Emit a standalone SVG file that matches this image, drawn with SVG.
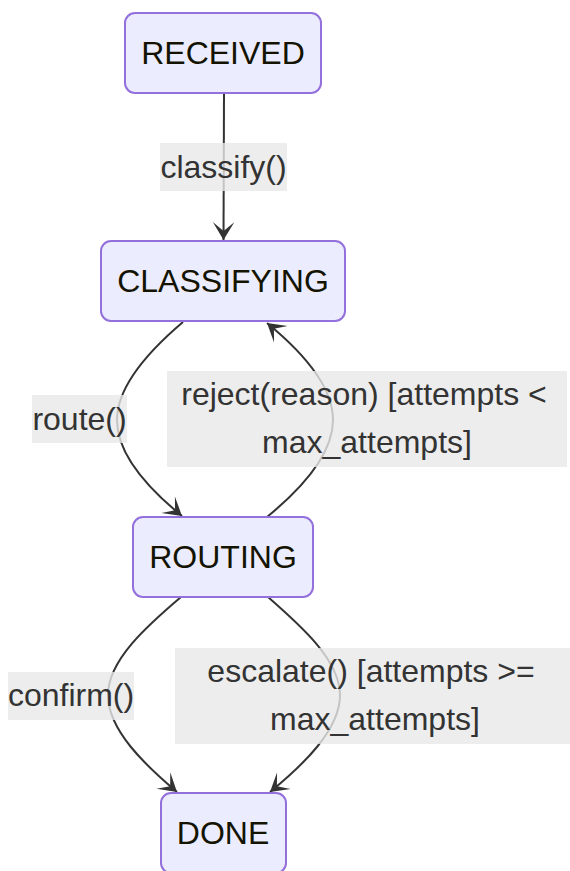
<svg xmlns="http://www.w3.org/2000/svg" width="570" height="871" viewBox="0 0 570 871">
  <style>
    .state rect { fill: #ECECFF; stroke: #9370DB; stroke-width: 2; }
    .state text { font-family: "Liberation Sans", Arial, sans-serif; font-size: 32px; fill: #131300; text-anchor: middle; }
    .edge { fill: none; stroke: #333333; stroke-width: 2; marker-end: url(#barbEnd); }
    .edge-label rect { fill: #e8e8e8; fill-opacity: 0.8; }
    .edge-label text { font-family: "Liberation Sans", Arial, sans-serif; font-size: 32px; fill: #333333; text-anchor: middle; }
  </style>
  <defs>
    <marker id="barbEnd" viewBox="0 0 20 14" refX="19" refY="7" markerWidth="36" markerHeight="25" markerUnits="userSpaceOnUse" orient="auto">
      <path d="M 19,7 L9,13 L14,7 L9,1 Z" fill="#333333"/>
    </marker>
  </defs>

  <!-- transitions -->
  <g id="edges">
    <path class="edge" d="M224,93 L223.5,240"/>
    <path class="edge" d="M183,322 C150,350 117,385 117,420 C117,455 150,490 182,516"/>
    <path class="edge" d="M267,517 C300,490 333,455 333,420 C333,385 300,350 267,323"/>
    <path class="edge" d="M181,597 C148,625 108,660 108,695 C108,730 145,765 177,792"/>
    <path class="edge" d="M268,597 C300,625 340,660 340,695 C340,730 303,765 270,792"/>
  </g>

  <!-- transition labels -->
  <g id="edge-labels">
    <g class="edge-label" id="label-classify">
      <rect x="160" y="143" width="127" height="48"/>
      <text x="223.5" y="178">classify()</text>
    </g>
    <g class="edge-label" id="label-route">
      <rect x="32" y="395" width="95" height="48"/>
      <text x="79.5" y="430">route()</text>
    </g>
    <g class="edge-label" id="label-reject">
      <rect x="167" y="371" width="400" height="96"/>
      <text x="364" y="405">reject(reason) [attempts &lt;</text>
      <text x="367" y="453">max_attempts]</text>
    </g>
    <g class="edge-label" id="label-confirm">
      <rect x="8" y="672" width="126" height="48"/>
      <text x="71" y="706">confirm()</text>
    </g>
    <g class="edge-label" id="label-escalate">
      <rect x="175" y="648" width="400" height="96"/>
      <text x="371" y="682">escalate() [attempts &gt;=</text>
      <text x="375" y="730">max_attempts]</text>
    </g>
  </g>

  <!-- states -->
  <g id="RECEIVED" class="state">
    <rect x="125" y="13" width="196" height="80" rx="10" ry="10"/>
    <text x="223" y="64">RECEIVED</text>
  </g>
  <g id="CLASSIFYING" class="state">
    <rect x="101" y="241" width="244" height="80" rx="10" ry="10"/>
    <text x="223" y="292">CLASSIFYING</text>
  </g>
  <g id="ROUTING" class="state">
    <rect x="133" y="517" width="180" height="80" rx="10" ry="10"/>
    <text x="223" y="568">ROUTING</text>
  </g>
  <g id="DONE" class="state">
    <rect x="161" y="793" width="125" height="80" rx="10" ry="10"/>
    <text x="223" y="844">DONE</text>
  </g>
</svg>
